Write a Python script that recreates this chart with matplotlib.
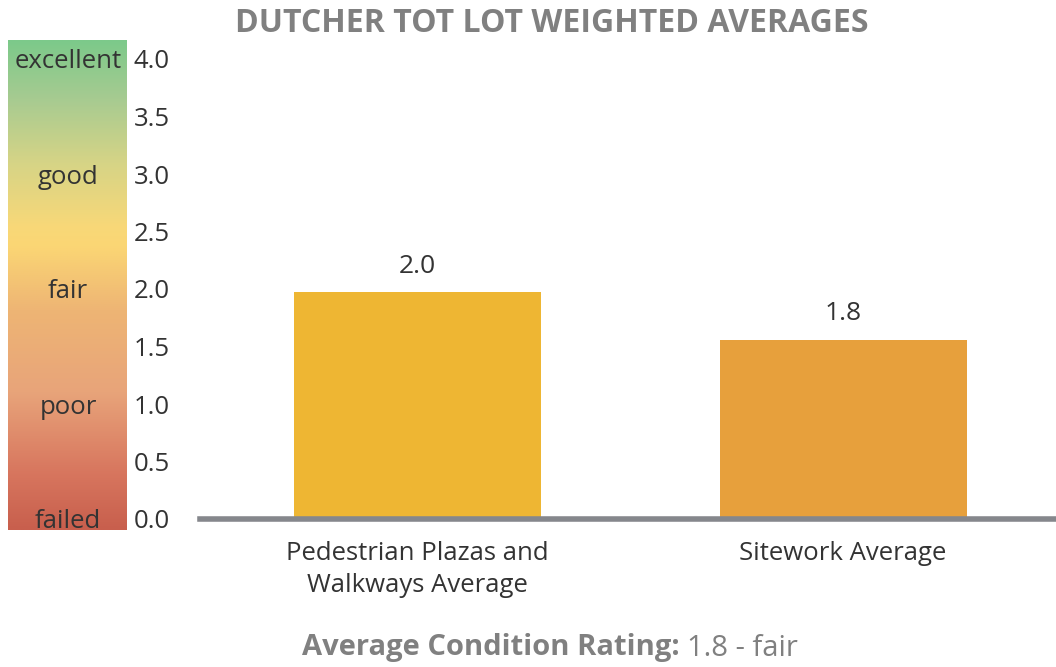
import numpy as np
import matplotlib
matplotlib.use("Agg")
import matplotlib.pyplot as plt
from matplotlib.colors import LinearSegmentedColormap
from matplotlib.transforms import blended_transform_factory

# ---- data ----
categories = ["Pedestrian Plazas and\nWalkways Average", "Sitework Average"]
values = [1.97, 1.56]
value_labels = ["2.0", "1.8"]
bar_colors = ["#EEB633", "#E7A03C"]
yticks = [0.0, 0.5, 1.0, 1.5, 2.0, 2.5, 3.0, 3.5, 4.0]
rating_names = ["failed", "poor", "fair", "good", "excellent"]
rating_levels = [0, 1, 2, 3, 4]
title = "DUTCHER TOT LOT WEIGHTED AVERAGES"
overall_value = "1.8"
overall_rating = "fair"

plt.rcParams['font.family'] = ['Open Sans', 'DejaVu Sans']

W, H = 1056, 667
fig = plt.figure(figsize=(W / 100, H / 100), dpi=100)

# gradient panel
gax = fig.add_axes([8 / W, 1 - 530 / H, 119 / W, 490 / H])
cmap = LinearSegmentedColormap.from_list("cond", [
    (0.0, "#c85f4d"),
    (0.12, "#d8775f"),
    (0.28, "#e8a47a"),
    (0.45, "#eeb574"),
    (0.58, "#fbd674"),
    (0.62, "#f8d878"),
    (0.75, "#d6d486"),
    (0.88, "#a7cb91"),
    (1.0, "#7cc98a"),
])
grad = np.linspace(1, 0, 256).reshape(-1, 1)
gax.imshow(grad, aspect="auto", cmap=cmap, extent=[0, 1, 0, 1])
gax.set_axis_off()

# main axes
ax = fig.add_axes([200 / W, 1 - 519 / H, 856 / W, 460 / H])
x = np.arange(len(categories))
ax.bar(x, values, width=0.58, color=bar_colors, zorder=2)
for xi, v, lab in zip(x, values, value_labels):
    ax.annotate(lab, (xi, v), xytext=(0, 10), textcoords="offset points",
                ha="center", va="bottom", fontsize=19, color="#333333")
ax.axhline(0, color="#85878c", lw=4, zorder=3, clip_on=False)
ax.set_xlim(-0.51, 1.50)
ax.set_ylim(0, 4)
for s in ax.spines.values():
    s.set_visible(False)
ax.set_yticks(yticks)
ax.set_yticklabels([f"{t:.1f}" for t in yticks], fontsize=18.5, color="#333333", ha="left")
ax.tick_params(axis="y", length=0, pad=48)
ax.set_xticks(x)
ax.set_xticklabels(categories, fontsize=18.5, color="#333333", linespacing=1.35)
ax.tick_params(axis="x", length=0, pad=16)

tr = blended_transform_factory(fig.transFigure, ax.transData)
for name, lvl in zip(rating_names, rating_levels):
    ax.text(68 / W, lvl, name, transform=tr, ha="center", va="center_baseline",
            fontsize=18.5, color="#333333", clip_on=False)

fig.text(552 / W, 1 - 23 / H, title, ha="center", va="center",
         fontsize=23, fontweight="bold", color="#808080")

# footer
t1 = fig.text(0, 1 - 648 / H, "Average Condition Rating: ", ha="left", va="center",
              fontsize=21, fontweight="bold", color="#808080")
t2 = fig.text(0, 1 - 648 / H, f"{overall_value} - {overall_rating}", ha="left", va="center",
              fontsize=21, color="#808080")
fig.canvas.draw()
r = fig.canvas.get_renderer()
w1 = t1.get_window_extent(r).width
w2 = t2.get_window_extent(r).width
start = 550 - (w1 + w2) / 2
t1.set_x(start / W)
t2.set_x((start + w1) / W)

fig.savefig("out.png", dpi=100)
